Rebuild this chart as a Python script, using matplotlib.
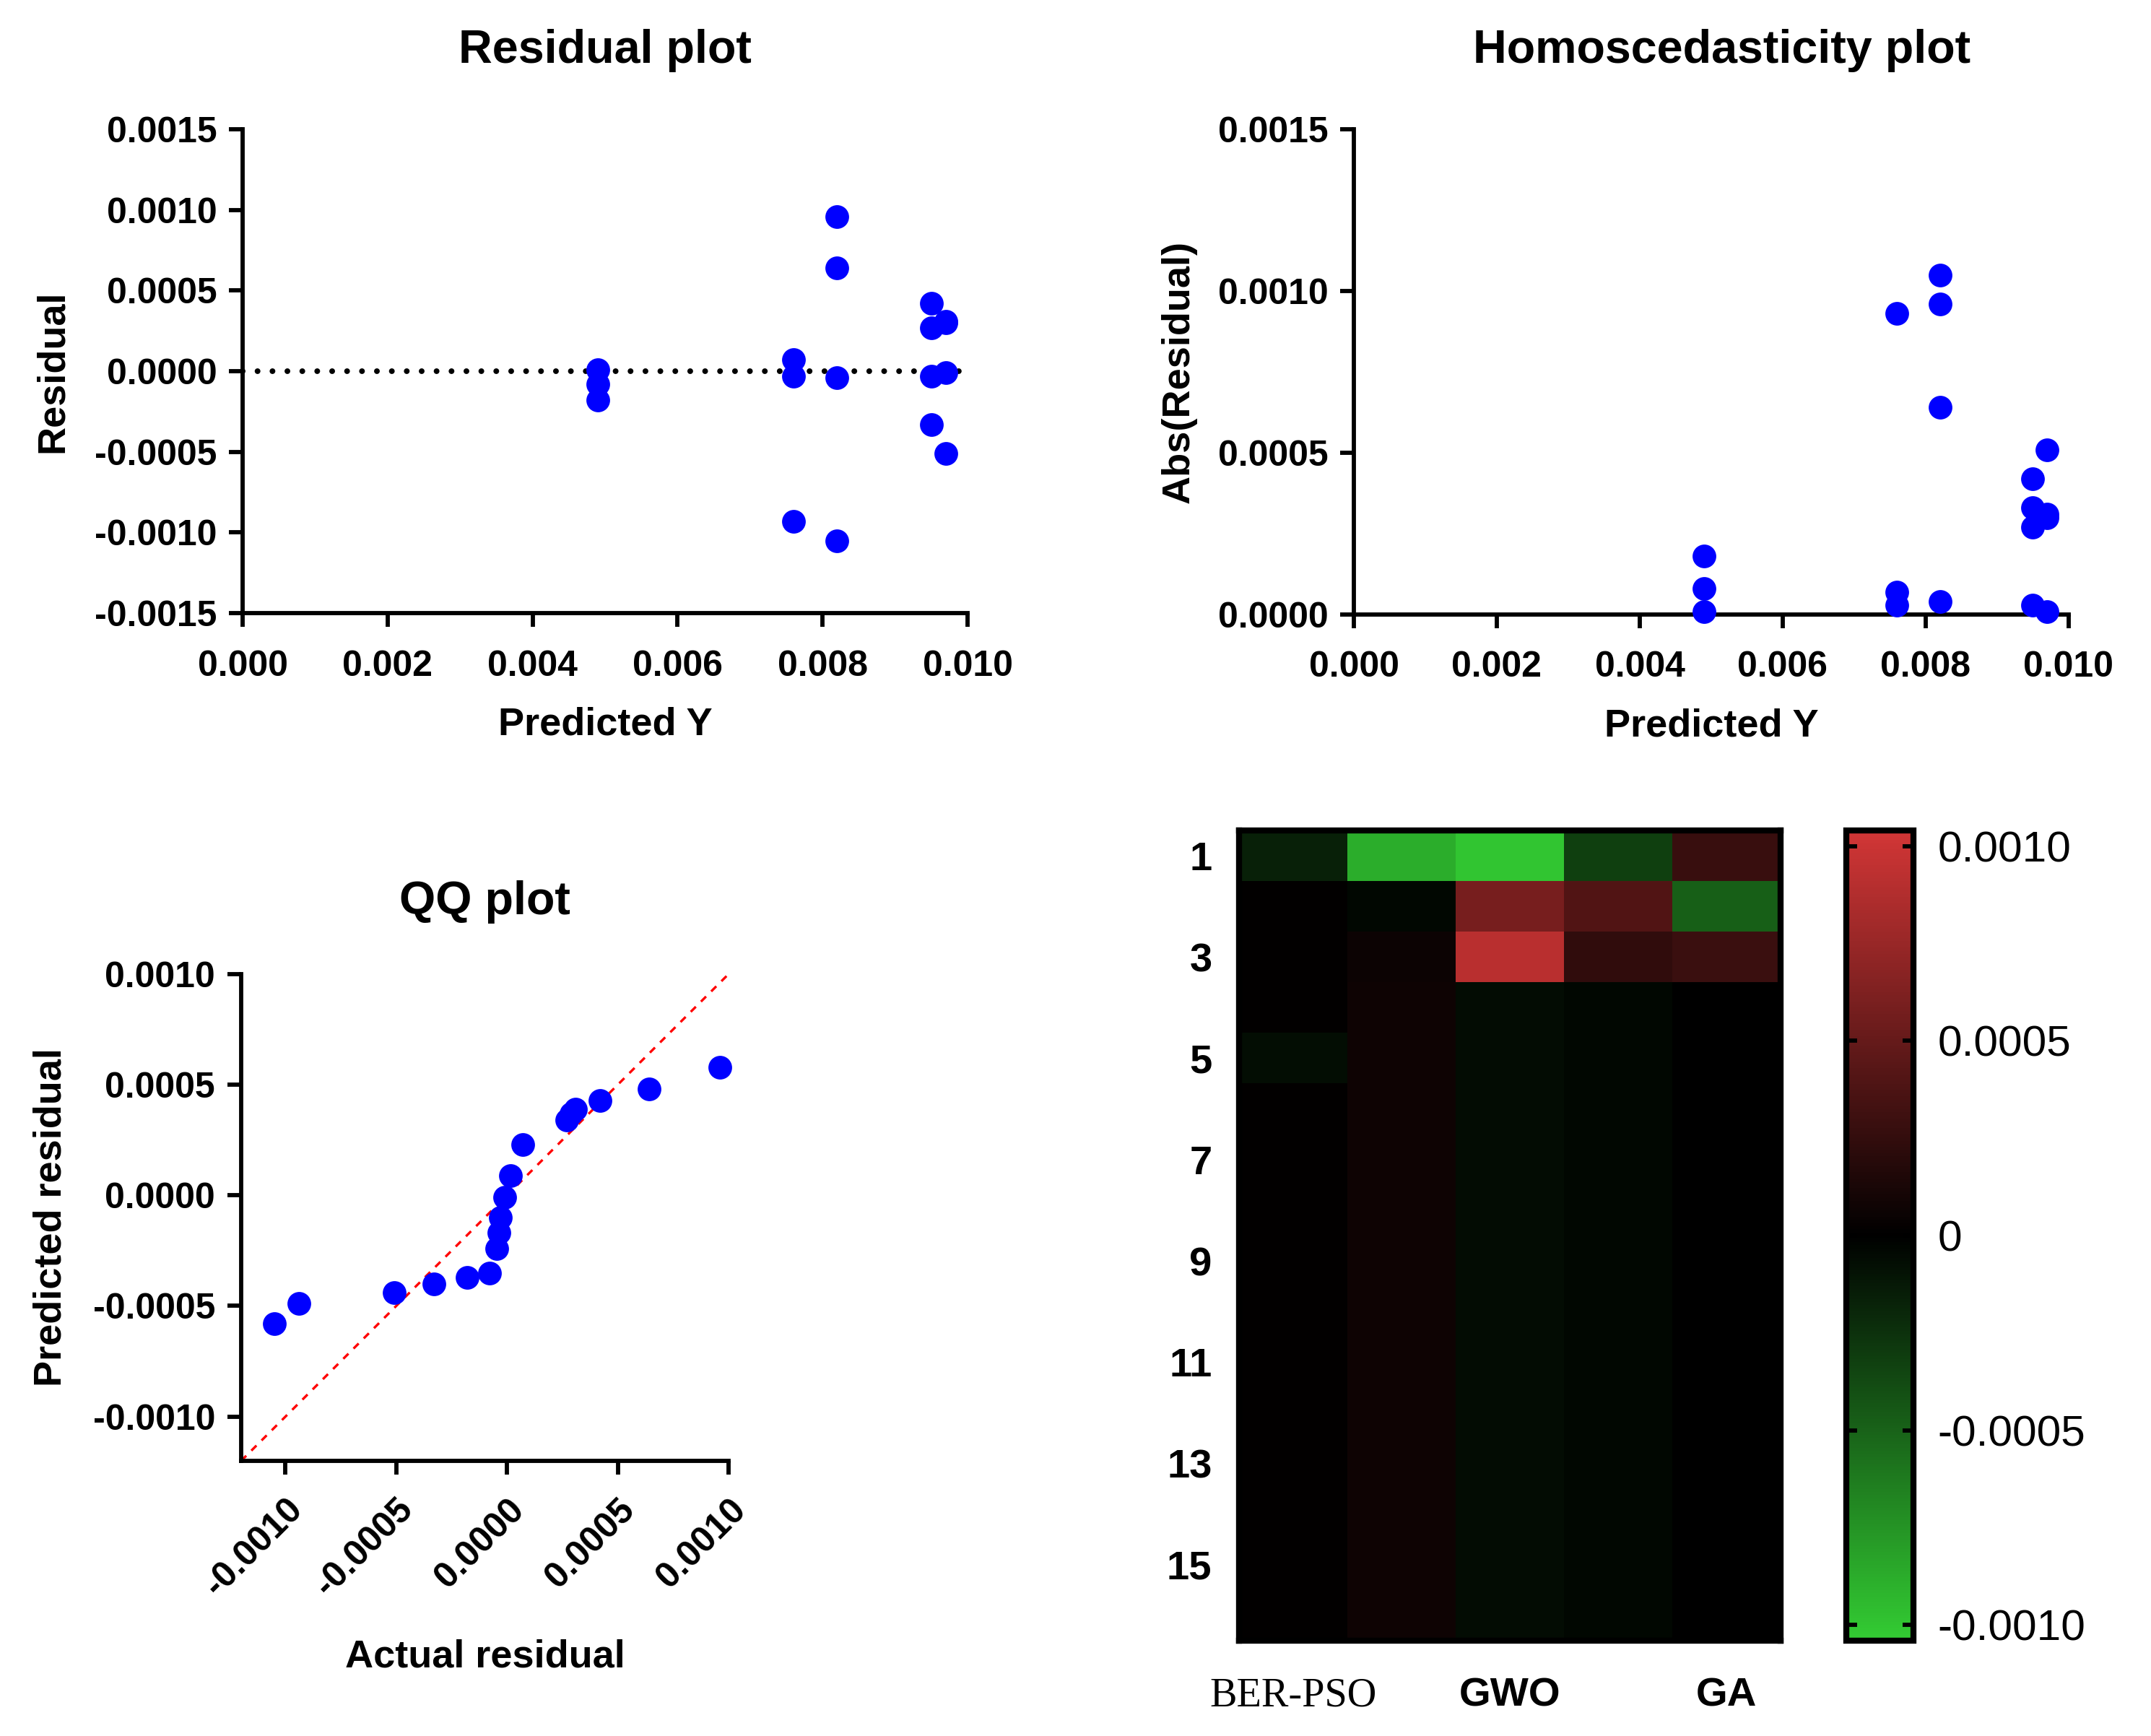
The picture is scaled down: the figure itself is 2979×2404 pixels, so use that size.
import numpy as np
import matplotlib
matplotlib.use("Agg")
import matplotlib.pyplot as plt
from matplotlib.colors import LinearSegmentedColormap

plt.rcParams['font.family'] = ['Liberation Sans', 'DejaVu Sans']
plt.rcParams['font.weight'] = 'bold'
plt.rcParams['axes.unicode_minus'] = False

# ---- data ----
predicted_y = [0.0049, 0.0049, 0.0049,
               0.0076, 0.0076, 0.0076,
               0.0082, 0.0082, 0.0082, 0.0082,
               0.0095, 0.0095, 0.0095, 0.0095,
               0.0097, 0.0097, 0.0097, 0.0097]
residual = [0.00001, -0.00008, -0.00018,
            0.00007, -0.00003, -0.00093,
            0.00096, 0.00064, -0.00004, -0.00105,
            0.00042, 0.00027, -0.00003, -0.00033,
            0.00031, 0.00030, -0.00001, -0.00051]

# QQ plot: actual residual (sorted) vs predicted residual
qq_actual = [-0.00105, -0.00094, -0.00051, -0.00033, -0.00018, -0.00008,
             -0.000046, -0.000035, -0.00003, -0.00001, 0.000015, 0.00007,
             0.00027, 0.00029, 0.00031, 0.00042, 0.00064, 0.00096]
qq_predicted = [-0.00058, -0.00049, -0.00044, -0.00040, -0.00037, -0.00035,
                -0.00024, -0.00017, -0.00010, -0.00001, 0.00009, 0.00023,
                0.00034, 0.00037, 0.00039, 0.00043, 0.00048, 0.00058]

# heatmap: 16 rows x 5 columns
heat_rows = [str(i) for i in range(1, 17)]
heat_cols = ['BER-PSO', '', 'GWO', '', 'GA']
heat = [
    [-0.00017, -0.00088, -0.00100, -0.00032, 0.00028],
    [0.00001, -0.00004, 0.00059, 0.00040, -0.00048],
    [0.00001, 0.00006, 0.00091, 0.00024, 0.00029],
    [0.00001, 0.00007, -0.00006, -0.00004, 0.0],
    [-0.00007, 0.00007, -0.00006, -0.00004, 0.0],
    [0.00001, 0.00007, -0.00006, -0.00004, 0.0],
    [0.00001, 0.00007, -0.00006, -0.00004, 0.0],
    [0.00001, 0.00007, -0.00006, -0.00004, 0.0],
    [0.00001, 0.00007, -0.00006, -0.00004, 0.0],
    [0.00001, 0.00007, -0.00006, -0.00004, 0.0],
    [0.00001, 0.00007, -0.00006, -0.00004, 0.0],
    [0.00001, 0.00007, -0.00006, -0.00004, 0.0],
    [0.00001, 0.00007, -0.00006, -0.00004, 0.0],
    [0.00001, 0.00007, -0.00006, -0.00004, 0.0],
    [0.00001, 0.00007, -0.00006, -0.00004, 0.0],
    [0.00001, 0.00007, -0.00006, -0.00004, 0.0],
]

BLUE = '#0000FF'
LW = 1.4
TICK_FS = 12
LABEL_FS = 13
TITLE_FS = 15.5
DOT = 62


def style_axes(ax):
    for s in ['top', 'right']:
        ax.spines[s].set_visible(False)
    for s in ['left', 'bottom']:
        ax.spines[s].set_linewidth(LW)
    ax.tick_params(direction='out', length=4.6, width=LW, labelsize=TICK_FS)
    ax.tick_params(axis='x', pad=7.5)
    ax.tick_params(axis='y', pad=4)


fig = plt.figure(figsize=(2979 / 300, 2404 / 300), dpi=300)

# ---- Residual plot ----
ax1 = fig.add_axes([0.1128, 0.6468, 0.3370, 0.2787])
ax1.axhline(0, color='black', lw=1.9, linestyle=(0, (0.01, 2.6)),
            dash_capstyle='round', zorder=1)
ax1.scatter(predicted_y, residual, s=DOT, color=BLUE, zorder=3, linewidths=0,
            clip_on=False)
ax1.set_xlim(0, 0.010)
ax1.set_ylim(-0.0015, 0.0015)
ax1.set_xticks([0.0, 0.002, 0.004, 0.006, 0.008, 0.010])
ax1.set_yticks([-0.0015, -0.0010, -0.0005, 0.0, 0.0005, 0.0010, 0.0015])
ax1.xaxis.set_major_formatter(matplotlib.ticker.FormatStrFormatter('%.3f'))
ax1.yaxis.set_major_formatter(matplotlib.ticker.FormatStrFormatter('%.4f'))
style_axes(ax1)
ax1.set_xlabel('Predicted Y', fontsize=LABEL_FS, fontweight='bold', labelpad=8)
ax1.set_ylabel('Residual', fontsize=LABEL_FS, fontweight='bold', labelpad=8)
ax1.set_title('Residual plot', fontsize=TITLE_FS, fontweight='bold', pad=22)

# ---- Homoscedasticity plot ----
ax2 = fig.add_axes([0.6294, 0.646, 0.3323, 0.2795])
ax2.scatter(predicted_y, np.abs(residual), s=DOT, color=BLUE, zorder=3,
            linewidths=0, clip_on=False)
ax2.set_xlim(0, 0.010)
ax2.set_ylim(0, 0.0015)
ax2.set_xticks([0.0, 0.002, 0.004, 0.006, 0.008, 0.010])
ax2.set_yticks([0.0, 0.0005, 0.0010, 0.0015])
ax2.xaxis.set_major_formatter(matplotlib.ticker.FormatStrFormatter('%.3f'))
ax2.yaxis.set_major_formatter(matplotlib.ticker.FormatStrFormatter('%.4f'))
style_axes(ax2)
ax2.set_xlabel('Predicted Y', fontsize=LABEL_FS, fontweight='bold', labelpad=8)
ax2.set_ylabel('Abs(Residual)', fontsize=LABEL_FS, fontweight='bold', labelpad=7)
ax2.set_title('Homoscedasticity plot', fontsize=TITLE_FS, fontweight='bold',
              pad=22, x=0.515)

# ---- QQ plot ----
ax3 = fig.add_axes([0.1121, 0.1585, 0.2266, 0.2804])
lims = [-0.0012, 0.0010]
ax3.plot(lims, lims, color='#FF0000', lw=0.8, linestyle=(0, (3, 3)), zorder=2)
ax3.scatter(qq_actual, qq_predicted, s=DOT, color=BLUE, zorder=3, linewidths=0,
            clip_on=False)
ax3.set_xlim(lims)
ax3.set_ylim(lims)
ticks = [-0.0010, -0.0005, 0.0, 0.0005, 0.0010]
ax3.set_xticks(ticks)
ax3.set_yticks(ticks)
ax3.xaxis.set_major_formatter(matplotlib.ticker.FormatStrFormatter('%.4f'))
ax3.yaxis.set_major_formatter(matplotlib.ticker.FormatStrFormatter('%.4f'))
style_axes(ax3)
for lab in ax3.get_xticklabels():
    lab.set_rotation(45)
    lab.set_ha('right')
    lab.set_va('top')
    lab.set_rotation_mode('anchor')
ax3.tick_params(axis='x', pad=6)
ax3.set_xlabel('Actual residual', fontsize=LABEL_FS, fontweight='bold', labelpad=12)
ax3.set_ylabel('Predicted residual', fontsize=LABEL_FS, fontweight='bold', labelpad=8)
ax3.set_title('QQ plot', fontsize=TITLE_FS, fontweight='bold', pad=20)

# ---- heatmap ----
cmap = LinearSegmentedColormap.from_list(
    'gr', [(0.0, '#33CC33'), (0.5, '#000000'), (1.0, '#D23636')])
ax4 = fig.add_axes([0.5760, 0.0549, 0.2518, 0.4667])
im = ax4.imshow(np.array(heat), cmap=cmap, vmin=-0.00104, vmax=0.00104,
                aspect='auto', interpolation='nearest')
for s in ax4.spines.values():
    s.set_linewidth(2.0)
ax4.set_yticks(range(0, 16, 2))
ax4.set_yticklabels(heat_rows[::2], fontsize=13.5, fontweight='bold')
ax4.set_xticks(range(len(heat_cols)))
ax4.set_xticklabels(heat_cols, fontsize=13.5, fontweight='bold')
xl = ax4.get_xticklabels()
xl[0].set_fontfamily('Liberation Serif')
xl[0].set_fontweight('normal')
ax4.tick_params(axis='both', length=0)
ax4.tick_params(axis='y', pad=9)
ax4.tick_params(axis='x', pad=12)

cax = fig.add_axes([0.8583, 0.0549, 0.0312, 0.4667])
cb = fig.colorbar(im, cax=cax)
cb.outline.set_linewidth(2.0)
cb.set_ticks([-0.0010, -0.0005, 0.0, 0.0005, 0.0010])
cb.set_ticklabels(['-0.0010', '-0.0005', '0', '0.0005', '0.0010'])
cax.tick_params(direction='in', left=True, right=True, length=3.5, width=1.4,
                labelsize=14.5, pad=8)
for lab in cax.get_yticklabels():
    lab.set_fontweight('normal')

fig.savefig('out.png', dpi=300)
